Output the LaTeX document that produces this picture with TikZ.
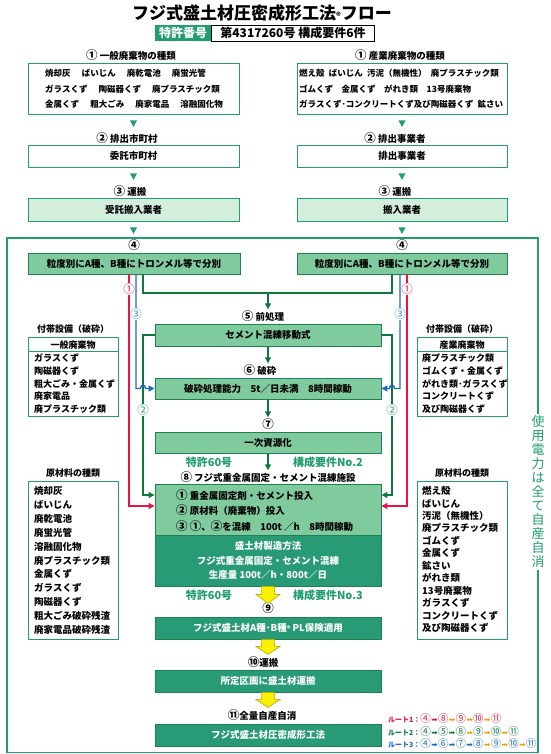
\documentclass[tikz,border=0pt]{standalone}
\usepackage{fontspec}
\setmainfont{Noto Sans CJK JP}
\newfontfamily\dejavu{DejaVu Sans}
\usetikzlibrary{calc,arrows.meta}
\definecolor{frameg}{RGB}{34,158,110}
\definecolor{lfill}{RGB}{212,238,222}
\definecolor{mfill}{RGB}{128,203,158}
\definecolor{mborder}{RGB}{30,130,80}
\definecolor{dfill}{RGB}{40,155,118}
\definecolor{dgreen}{RGB}{16,120,62}
\definecolor{rred}{RGB}{232,20,70}
\definecolor{bblue}{RGB}{30,105,195}
\definecolor{lblue}{RGB}{50,150,215}
\definecolor{yfill}{RGB}{250,240,0}
\definecolor{ydraw}{RGB}{175,165,0}
\definecolor{orng}{RGB}{240,160,0}
\newcommand{\myarr}[1]{\hspace{0.4pt}{\color{#1}\dejavu\fontsize{7.5}{7.5}\selectfont ➡}\hspace{0.4pt}}
\newcommand{\cnum}[1]{{\fontsize{11.5}{11.5}\selectfont #1}}
\tikzset{
  wbox/.style={draw=frameg, line width=0.9pt, fill=white, inner sep=0pt, font=\fontsize{9.5}{9.5}\selectfont\bfseries},
  lbox/.style={wbox, fill=lfill},
  mbox/.style={draw=mborder, line width=0.9pt, fill=mfill, inner sep=0pt, font=\fontsize{9.5}{9.5}\selectfont\bfseries},
  dbox/.style={draw=mborder, line width=0.9pt, fill=dfill, text=white, inner sep=0pt, font=\fontsize{9.5}{9.5}\selectfont\bfseries},
  lab/.style={inner sep=1pt, font=\fontsize{9.5}{9.5}\selectfont\bfseries},
  grp/.style={inner sep=1pt, font=\fontsize{9}{9}\selectfont\bfseries},
  pat/.style={inner sep=1pt, text=frameg, font=\fontsize{11}{11}\selectfont\bfseries},
  clab/.style={fill=white, inner sep=0.2pt, font=\fontsize{11.5}{11.5}\selectfont},
  topl/.style={anchor=west, align=left, inner sep=0pt, font=\fontsize{8.5}{15.5}\selectfont\bfseries},
  gline/.style={draw=dgreen, line width=1.4pt},
  garr/.style={draw=dgreen, line width=1.4pt, -{Triangle[length=6pt,width=6pt]}},
  barr/.style={draw=bblue, line width=1.4pt, -{Triangle[length=6pt,width=6pt]}},
  rarr/.style={draw=rred, line width=1.4pt, -{Triangle[length=6pt,width=6pt]}},
  yarr/.style={fill=yfill, draw=ydraw, line width=0.5pt},
  tri/.style={fill=frameg},
  route/.style={anchor=west, inner sep=0pt, font=\fontsize{10.5}{10.5}\selectfont}
}
\begin{document}
\begin{tikzpicture}[x=1pt,y=-1pt]
\useasboundingbox (0,0) rectangle (550,754);
\fill[white] (0,0) rectangle (550,754);

% title
\node[inner sep=0pt, font=\fontsize{17}{17}\selectfont\bfseries] (title) at (262,13) {フジ式盛土材圧密成形工法{\fontsize{9}{9}\selectfont ®}フロー};
\node[fill=frameg, text=white, font=\fontsize{12}{12}\selectfont\bfseries, minimum width=56, minimum height=16, inner sep=0pt] (pat1) at (183,33) {特許番号};
\node[draw=black, line width=0.6pt, font=\fontsize{12}{12}\selectfont\bfseries, minimum width=163, minimum height=16, inner sep=0pt, anchor=west] (pat2) at (pat1.east) {第4317260号 構成要件6件};

% left top column
\node[lab] (l1L) at (131,55) {\cnum{①} 一般廃棄物の種類};
\node[wbox, minimum width=211, minimum height=51] (b1L) at (133.5,88.5) {};
\node[topl] (t1L) at (45,89) {焼却灰\hspace{1.3em}ばいじん\hspace{1.3em}廃乾電池\hspace{1.3em}廃蛍光管\\ガラスくず\hspace{1.3em}陶磁器くず\hspace{1.3em}廃プラスチック類\\金属くず\hspace{1.3em}粗大ごみ\hspace{1.3em}廃家電品\hspace{1.3em}溶融固化物};
\node[lab] (l2L) at (127,138) {\cnum{②} 排出市町村};
\node[wbox, minimum width=211, minimum height=22] (b2L) at (133.5,156) {委託市町村};
\node[lab] (l3L) at (130,191) {\cnum{③} 運搬};
\node[lbox, minimum width=211, minimum height=23] (b3L) at (133.5,209.5) {受託搬入業者};

% right top column
\node[lab] (l1R) at (400,55) {\cnum{①} 産業廃棄物の種類};
\node[wbox, minimum width=210, minimum height=51] (b1R) at (402,88.5) {};
\node[topl] (t1R) at (299,89) {燃え殻\hspace{.5em}ばいじん\hspace{.5em}汚泥（無機性）\hspace{.5em}廃プラスチック類\\ゴムくず\hspace{1em}金属くず\hspace{1em}がれき類\hspace{1em}13号廃棄物\\ガラスくず･コンクリートくず及び陶磁器くず\hspace{.5em}鉱さい};
\node[lab] (l2R) at (395,138) {\cnum{②} 排出事業者};
\node[wbox, minimum width=210, minimum height=22] (b2R) at (402,156) {排出事業者};
\node[lab] (l3R) at (395,191) {\cnum{③} 運搬};
\node[lbox, minimum width=210, minimum height=23] (b3R) at (402,209.5) {搬入業者};

\foreach \n in {b1L,b2L,b3L,b1R,b2R,b3R}
  \fill[tri] ($(\n.south)+(-3.5,6)$) -- ++(7,0) -- ++(-3.5,6.5) -- cycle;

% outer frame
\draw[frameg, line width=1.2pt] (7,238) rectangle (538,752.5);
\node[fill=white, text=frameg, font=\fontsize{13}{14}\selectfont, align=center, inner sep=2pt] (vt) at (538,492) {使\\用\\電\\力\\は\\全\\て\\自\\産\\自\\消};

% step 4
\node[lab] (l4L) at (134,245) {\cnum{④}};
\node[lab] (l4R) at (402,245) {\cnum{④}};
\node[mbox, minimum width=212, minimum height=21] (b4L) at (134,263.5) {粒度別にA種、B種にトロンメル等で分別};
\node[mbox, minimum width=210, minimum height=21] (b4R) at (402,263.5) {粒度別にA種、B種にトロンメル等で分別};

% centre column
\node[lab] (l5) at (263,316) {\cnum{⑤} 前処理};
\node[mbox, minimum width=226, minimum height=22] (b5) at (268,335) {セメント混練移動式};
\node[lab] (l6) at (260,370) {\cnum{⑥} 破砕};
\node[mbox, minimum width=226, minimum height=21] (b6) at (268,388.5) {破砕処理能力\hspace{1em}5t／日未満\hspace{1em}8時間稼動};
\node[lab] (l7) at (268,424) {\cnum{⑦}};
\node[mbox, minimum width=226, minimum height=21] (b7) at (268,442.5) {一次資源化};
\node[pat] (p2a) at (209,462) {特許60号};
\node[pat] (p2b) at (328,462) {構成要件No.2};
\node[lab] (l8) at (268,477) {\cnum{⑧} フジ式重金属固定・セメント混練施設};
\node[mbox, minimum width=226, minimum height=51] (b8a) at (268,509.5) {};
\node[anchor=west, align=left, inner sep=0pt, font=\fontsize{9.5}{15.5}\selectfont\bfseries] (t8a) at (176,510.5) {\cnum{①} 重金属固定剤・セメント投入\\\cnum{②} 原材料（廃棄物）投入\\\cnum{③} \cnum{①}、\cnum{②}を混練\hspace{1em}100t ／h\hspace{1em}8時間稼動};
\node[dbox, minimum width=226, minimum height=51, align=center, font=\fontsize{9.5}{14.5}\selectfont\bfseries] (b8b) at (268,560.5) {盛土材製造方法\\フジ式重金属固定・セメント混練\\生産量 100t／h・800t／日};
\node[pat] (p3a) at (209,595) {特許60号};
\node[pat] (p3b) at (328,595) {構成要件No.3};
\node[lab] (l9) at (268,608) {\cnum{⑨}};
\node[dbox, minimum width=226, minimum height=22] (b9) at (268,628) {フジ式盛土材A種･B種{\fontsize{7}{7}\selectfont ®} PL保険適用};
\node[lab] (l10) at (263,662) {\cnum{⑩}運搬};
\node[dbox, minimum width=226, minimum height=22] (b10) at (268,681) {所定区画に盛土材運搬};
\node[lab] (l11) at (262,715) {\cnum{⑪}全量自産自消};
\node[dbox, minimum width=226, minimum height=22] (b11) at (268,735) {フジ式盛土材圧密成形工法};

% yellow arrows
\filldraw[yarr] ($(b8b.south)+(-6.5,0)$) -- ++(0,8) -- ++(-5.5,0) -- ($(b8b.south)+(0,17)$) -- ++(12,-9) -- ++(-5.5,0) -- ++(0,-8) -- cycle;
\filldraw[yarr] ($(b9.south)+(-6.5,0)$) -- ++(0,7) -- ++(-5.5,0) -- ($(b9.south)+(0,15)$) -- ++(12,-8) -- ++(-5.5,0) -- ++(0,-7) -- cycle;
\filldraw[yarr] ($(b10.south)+(-6.5,0)$) -- ++(0,7) -- ++(-5.5,0) -- ($(b10.south)+(0,15)$) -- ++(12,-8) -- ++(-5.5,0) -- ++(0,-7) -- cycle;

% connector guides
\coordinate (gt) at (268,293);
\coordinate (xg1) at (143,0);
\coordinate (xb1) at (136,0);
\coordinate (xr1) at (129,0);
\coordinate (xg2) at (392,0);
\coordinate (xb2) at (400,0);
\coordinate (xr2) at (407,0);
\coordinate (e8g) at (0,495);
\coordinate (e8r) at (0,506);

% green connectors
\draw[gline] (b4L.south -| xg1) -- (xg1 |- gt) -- (xg2 |- gt) -- (b4R.south -| xg2);
\draw[garr] (gt) -- (gt |- l5.north);
\draw[garr] (b5.south) -- (b5.south |- l6.north);
\draw[garr] (b6.south) -- (b6.south |- l7.north);
\draw[garr] (b7.south) -- (b7.south |- l8.north);
\draw[garr] (b5.west) -| (e8g -| xg1) -- (e8g -| b8a.west);
\draw[garr] (b5.east) -| (e8g -| xg2) -- (e8g -| b8a.east);

% blue connectors
\draw[barr] (b4L.south -| xb1) -- (xb1 |- b6.west) -- ($(xg1 |- b6.west)+(-2.5,0)$) .. controls +(0,-4.5) and +(0,-4.5) .. ($(xg1 |- b6.west)+(2.5,0)$) -- (b6.west);
\draw[barr] (b4R.south -| xb2) -- (xb2 |- b6.east) -- ($(xg2 |- b6.east)+(2.5,0)$) .. controls +(0,-4.5) and +(0,-4.5) .. ($(xg2 |- b6.east)+(-2.5,0)$) -- (b6.east);

% red connectors
\draw[rarr] (b4L.south -| xr1) |- (e8r -| b8a.west);
\draw[rarr] (b4R.south -| xr2) |- (e8r -| b8a.east);

% route labels on connectors
\node[clab, text=rred] (c1L) at (129,289) {①};
\node[clab, text=lblue] (c3L) at (136,314) {③};
\node[clab, text=frameg] (c2L) at (143,410) {②};
\node[clab, text=rred] (c1R) at (407,289) {①};
\node[clab, text=lblue] (c3R) at (400,314) {③};
\node[clab, text=frameg] (c2R) at (392,410) {②};

% side boxes: crushing equipment
\node[grp] (fuLlab) at (73,329) {付帯設備（破砕）};
\node[wbox, minimum width=90, minimum height=79] (fuL) at (73,376.5) {};
\draw[frameg, line width=0.9pt] ($(fuL.north west)+(0,15)$) -- ($(fuL.north east)+(0,15)$);
\node[grp] (fuLh) at (73,345) {一般廃棄物};
\node[anchor=west, align=left, inner sep=0pt, font=\fontsize{9}{12.6}\selectfont\bfseries] (fuLt) at (34,383.75) {ガラスくず\\陶磁器くず\\粗大ごみ・金属くず\\廃家電品\\廃プラスチック類};

\node[grp] (fuRlab) at (462,329) {付帯設備（破砕）};
\node[wbox, minimum width=90, minimum height=79] (fuR) at (462,376.5) {};
\draw[frameg, line width=0.9pt] ($(fuR.north west)+(0,15)$) -- ($(fuR.north east)+(0,15)$);
\node[grp] (fuRh) at (462,345) {産業廃棄物};
\node[anchor=west, align=left, inner sep=0pt, font=\fontsize{9}{12.6}\selectfont\bfseries] (fuRt) at (422,383.75) {廃プラスチック類\\ゴムくず・金属くず\\がれき類･ガラスくず\\コンクリートくず\\及び陶磁器くず};

% side boxes: raw materials
\node[grp] (gzLlab) at (73,473) {原材料の種類};
\node[wbox, minimum width=90, minimum height=158] (gzL) at (73,560) {};
\node[anchor=west, align=left, inner sep=0pt, font=\fontsize{9.5}{13.9}\selectfont\bfseries] (gzLt) at (34,560.5) {焼却灰\\ばいじん\\廃乾電池\\廃蛍光管\\溶融固化物\\廃プラスチック類\\金属くず\\ガラスくず\\陶磁器くず\\粗大ごみ破砕残渣\\廃家電品破砕残渣};

\node[grp] (gzRlab) at (462,473) {原材料の種類};
\node[wbox, minimum width=90, minimum height=158] (gzR) at (462,560) {};
\node[anchor=west, align=left, inner sep=0pt, font=\fontsize{9.5}{12.45}\selectfont\bfseries] (gzRt) at (422,559.5) {燃え殻\\ばいじん\\汚泥（無機性）\\廃プラスチック類\\ゴムくず\\金属くず\\鉱さい\\がれき類\\13号廃棄物\\ガラスくず\\コンクリートくず\\及び陶磁器くず};

% route legend
\node[route, text=rred] (rt1) at (388,719) {{\fontsize{7}{7}\selectfont\bfseries ルート1：}④\myarr{rred}⑧\myarr{orng}⑨\myarr{orng}⑩\myarr{orng}⑪};
\node[route, text=dgreen] (rt2) at (388,732) {{\fontsize{7}{7}\selectfont\bfseries ルート2：}④\myarr{dgreen}⑤\myarr{dgreen}⑧\myarr{orng}⑨\myarr{orng}⑩\myarr{orng}⑪};
\node[route, text=bblue] (rt3) at (388,744) {{\fontsize{7}{7}\selectfont\bfseries ルート3：}④\myarr{bblue}⑥\myarr{bblue}⑦\myarr{bblue}⑧\myarr{orng}⑨\myarr{orng}⑩\myarr{orng}⑪};
\end{tikzpicture}
\end{document}
